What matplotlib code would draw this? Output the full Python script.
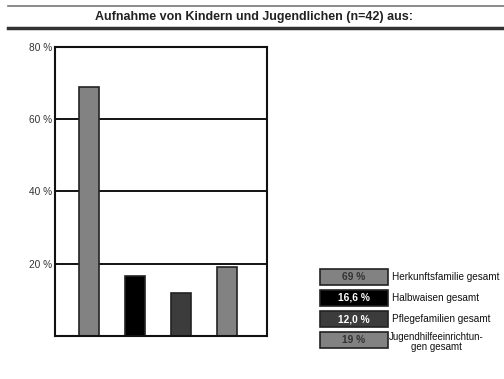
import matplotlib
matplotlib.use("Agg")
import matplotlib.pyplot as plt
from matplotlib.patches import Rectangle
from matplotlib.lines import Line2D

matplotlib.rc("font", family="Liberation Sans")

categories = ["Herkunftsfamilie gesamt", "Halbwaisen gesamt",
              "Pflegefamilien gesamt", "Jugendhilfeeinrichtun-\ngen gesamt"]
values = [69, 16.6, 12.0, 19]
value_labels = ["69 %", "16,6 %", "12,0 %", "19 %"]
colors = ["#828282", "#000000", "#3c3c3c", "#828282"]
text_colors = ["#333333", "#ffffff", "#ffffff", "#333333"]
yticks = [20, 40, 60, 80]
ytick_labels = ["20 %", "40 %", "60 %", "80 %"]

fig = plt.figure(figsize=(5.04, 3.79), dpi=100)
ax = fig.add_axes([0.109, 0.1135, 0.421, 0.7625])

# horizontal grid lines sit behind the bars
for y in yticks:
    ax.axhline(y, color="black", lw=1.3, zorder=1)

ax.bar(range(len(values)), values, width=0.43, color=colors,
       edgecolor="#222222", linewidth=1.2, zorder=2)
ax.set_xlim(-0.74, 3.87)
ax.set_ylim(0, 80)
ax.set_xticks([])
ax.set_yticks(yticks)
ax.set_yticklabels(ytick_labels, fontsize=7.3, color="#333333")
ax.tick_params(axis="y", length=0, pad=2)
for s in ax.spines.values():
    s.set_linewidth(1.5)
    s.set_color("#111111")

# title between two rules
fig.add_artist(Line2D([0.016, 1.0], [1 - 6 / 379] * 2, color="#777777", lw=1.2))
fig.add_artist(Line2D([0.016, 1.0], [1 - 28 / 379] * 2, color="#333333", lw=2.5))
fig.text(0.503, 1 - 17 / 379, "Aufnahme von Kindern und Jugendlichen (n=42) aus:",
         ha="center", va="center", fontsize=9, fontweight="bold", color="#222222")

# legend boxes with the values inside
W, H = 504, 379
rows = [277, 298, 319, 340]
for i, yc in enumerate(rows):
    x0, x1 = 320, 388
    box = Rectangle((x0 / W, 1 - (yc + 8) / H), (x1 - x0) / W, 16 / H,
                    transform=fig.transFigure, facecolor=colors[i],
                    edgecolor="#222222", lw=1.2)
    fig.add_artist(box)
    fig.text((x0 + x1) / 2 / W, 1 - yc / H, value_labels[i], ha="center",
             va="center", fontsize=7.3, fontweight="bold", color=text_colors[i])
    if "\n" in categories[i]:
        fig.text(389 / W, 1 - (yc + 2) / H, categories[i], ha="left", va="center",
                 fontsize=7, color="#111111", multialignment="center",
                 linespacing=1.05)
    else:
        fig.text(392 / W, 1 - yc / H, categories[i], ha="left", va="center",
                 fontsize=7.2, color="#111111")

fig.savefig("out.png", dpi=100)
